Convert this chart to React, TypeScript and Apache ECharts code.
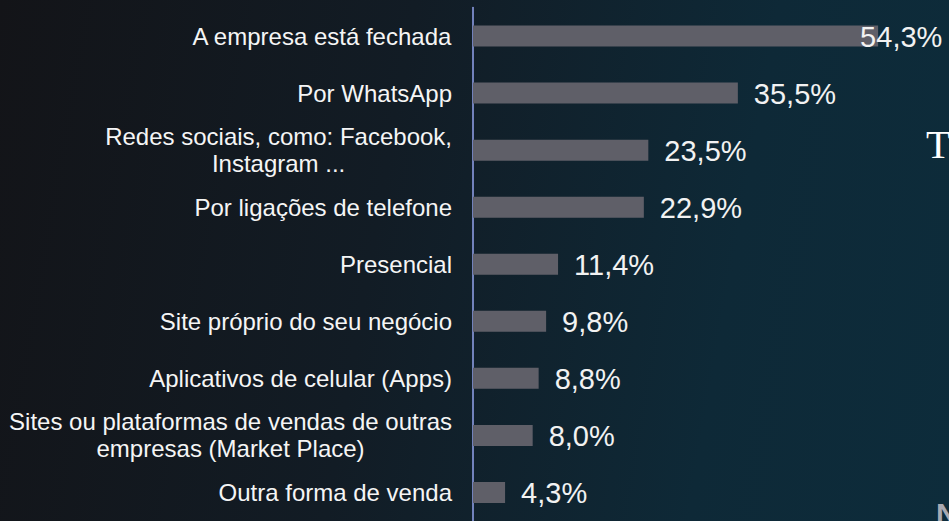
import React, { useEffect, useRef } from "react";
import * as echarts from "echarts";

const categories = [
  "A empresa está fechada",
  "Por WhatsApp",
  "Redes sociais, como: Facebook,\nInstagram ...",
  "Por ligações de telefone",
  "Presencial",
  "Site próprio do seu negócio",
  "Aplicativos de celular (Apps)",
  "Sites ou plataformas de vendas de outras\nempresas (Market Place)",
  "Outra forma de venda",
];
const values = [54.3, 35.5, 23.5, 22.9, 11.4, 9.8, 8.8, 8.0, 4.3];

const FONT = 'Arial, "Liberation Sans", sans-serif';

export default function App() {
  const ref = useRef<HTMLDivElement>(null);
  useEffect(() => {
    document.body.style.margin = "0";
    if (!ref.current) return;
    const chart = echarts.init(ref.current, undefined, { renderer: "svg" });
    const data = values.map((v, i) =>
      i === 0 ? { value: v, label: { offset: [-34, 1] } } : { value: v }
    );
    chart.setOption({
      animation: false,
      backgroundColor: "transparent",
      grid: { left: 473, right: 0, top: 7.5, height: 517.5, containLabel: false },
      xAxis: { type: "value", min: 0, max: 63.8, show: false },
      yAxis: {
        type: "category",
        data: categories,
        inverse: true,
        axisTick: { show: false },
        axisLine: { show: true, lineStyle: { color: "#93a3ec", width: 1.5 } },
        axisLabel: {
          margin: 21,
          align: "right",
          color: "#f5f5f5",
          fontSize: 24,
          fontFamily: FONT,
          formatter: (v: string) =>
            v
              .split("\n")
              .map((l) => `{c|${l}}`)
              .join("\n"),
          rich: {
            c: {
              align: "center",
              fontSize: 24,
              lineHeight: 27,
              color: "#f5f5f5",
              fontFamily: FONT,
            },
          },
        },
      },
      series: [
        {
          type: "bar",
          data,
          barWidth: 21,
          itemStyle: { color: "#5f5f68" },
          label: {
            show: true,
            position: "right",
            distance: 16,
            offset: [0, 1],
            color: "#f2f2f2",
            fontSize: 29,
            fontFamily: FONT,
            formatter: (p: any) => p.value.toFixed(1).replace(".", ",") + "%",
          },
        },
      ],
      graphic: [
        {
          type: "text",
          left: 926,
          top: 124,
          style: {
            text: "T",
            fill: "#ffffff",
            fontSize: 40,
            fontFamily: '"Liberation Serif", "DejaVu Serif", serif',
          },
        },
        {
          type: "text",
          left: 936,
          top: 498,
          style: {
            text: "N",
            fill: "#a8a9b2",
            fontSize: 30,
            fontWeight: "bold",
            fontFamily: FONT,
          },
        },
      ],
    });
    return () => chart.dispose();
  }, []);
  return (
    <div
      style={{
        position: "absolute",
        left: 0,
        top: 0,
        width: 949,
        height: 521,
        background: "linear-gradient(100deg, #131418 0%, #121c25 40%, #0e2937 75%, #0d2c3b 100%)",
        overflow: "hidden",
      }}
    >
      <div ref={ref} style={{ width: 949, height: 521 }} />
    </div>
  );
}
